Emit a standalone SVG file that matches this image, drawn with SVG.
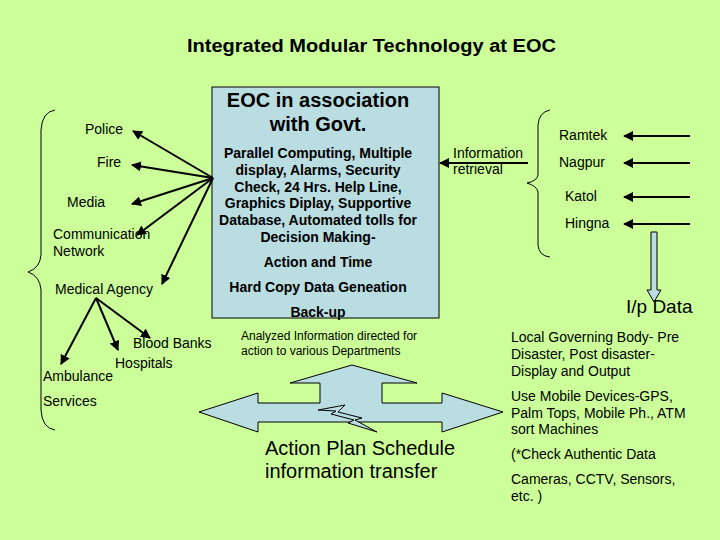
<svg xmlns="http://www.w3.org/2000/svg" width="720" height="540" viewBox="0 0 720 540">
<defs>
<marker id="ah" viewBox="0 0 10 10" refX="9" refY="5" markerWidth="5" markerHeight="5" orient="auto"><path d="M0,0 L10,5 L0,10 z" fill="#000"/></marker>
<style>
text{font-family:"Liberation Sans",Arial,sans-serif;fill:#000}
.s{font-size:14px}
.b{font-weight:bold}
.c{stroke:#000;stroke-width:2;fill:none;marker-end:url(#ah)}
.br{stroke:#000;stroke-width:1;fill:none}
.blue{fill:#b9dde0;stroke:#000;stroke-width:1}
</style>
</defs>
<rect width="720" height="540" fill="#ccff99"/>
<text x="187" y="52" class="b" font-size="18" textLength="369" lengthAdjust="spacingAndGlyphs">Integrated Modular Technology at EOC</text>
<g id="eoc">
<rect x="212" y="87" width="227" height="231" class="blue"/>
<text x="318" y="107" text-anchor="middle" class="b" font-size="20">EOC in association</text>
<text x="318" y="131" text-anchor="middle" class="b" font-size="20">with Govt.</text>
<g class="b" font-size="14" text-anchor="middle">
<text x="318" y="158">Parallel Computing, Multiple</text>
<text x="318" y="175">display, Alarms, Security</text>
<text x="318" y="192">Check, 24 Hrs. Help Line,</text>
<text x="318" y="208">Graphics Diplay, Supportive</text>
<text x="318" y="225">Database, Automated tolls for</text>
<text x="318" y="242">Decision Making-</text>
<text x="318" y="267">Action and Time</text>
<text x="318" y="292">Hard Copy Data Geneation</text>
<text x="318" y="317">Back-up</text>
</g>
</g>
<g id="left-brace"><path class="br" d="M55,110 Q42,112 41,130 L41,255 Q40,268 28,272 Q40,276 41,290 L41,410 Q42,428 55,430"/></g>
<g id="police"><text x="85" y="134" class="s">Police</text></g>
<g id="fire"><text x="97" y="167" class="s">Fire</text></g>
<g id="media"><text x="67" y="207" class="s">Media</text></g>
<g id="comm"><text x="53" y="239" class="s">Communication</text><text x="53" y="256" class="s">Network</text></g>
<g id="medical"><text x="55" y="294" class="s">Medical Agency</text></g>
<g id="blood"><text x="133" y="348" class="s">Blood Banks</text></g>
<g id="hospitals"><text x="115" y="368" class="s">Hospitals</text></g>
<g id="ambulance"><text x="43" y="381" class="s">Ambulance</text></g>
<g id="services"><text x="43" y="406" class="s">Services</text></g>
<g id="info"><text x="453" y="158" class="s">Information</text><text x="453" y="174" class="s">retrieval</text></g>
<g id="right-brace"><path class="br" d="M550,110 Q539,112 538,125 L538,175 Q537,181 527,183 Q537,186 538,192 L538,245 Q539,256 550,257"/></g>
<g id="ramtek"><text x="559" y="140" class="s">Ramtek</text></g>
<g id="nagpur"><text x="559" y="167" class="s">Nagpur</text></g>
<g id="katol"><text x="565" y="201" class="s">Katol</text></g>
<g id="hingna"><text x="565" y="228" class="s">Hingna</text></g>
<g id="ipdata">
<path d="M651,232 L657,232 L657,290 L661,290 L654,302 L647,290 L651,290 Z" fill="#b9dde0" stroke="#000" stroke-width="1"/>
<text x="626" y="313" font-size="19">I/p Data</text>
</g>
<g id="local" class="s">
<text x="511" y="342">Local Governing Body- Pre</text>
<text x="511" y="359">Disaster, Post disaster-</text>
<text x="511" y="376">Display and Output</text>
<text x="511" y="401">Use Mobile Devices-GPS,</text>
<text x="511" y="418">Palm Tops, Mobile Ph., ATM</text>
<text x="511" y="434">sort Machines</text>
<text x="511" y="459">(*Check Authentic Data</text>
<text x="511" y="484">Cameras, CCTV, Sensors,</text>
<text x="511" y="501">etc. )</text>
</g>
<g id="analyzed" font-size="12"><text x="241" y="340">Analyzed Information directed for</text><text x="241" y="355">action to various Departments</text></g>
<g id="bigarrow">
<path class="blue" d="M199,412 L258,393 L258,403 L320,403 L320,383 L290,383 L352,365 L417,383 L382,383 L382,403 L442,403 L442,393 L503,412 L442,432 L442,422 L258,422 L258,432 Z"/>
<path d="M318,410 L345,405 L338,412 L362,418 L355,420 L377,432 L348,423 L354,420 L331,414 L336,411 Z" fill="#b9dde0" stroke="#000" stroke-width="1"/>
</g>
<g id="action"><text x="265" y="455" font-size="20">Action Plan Schedule</text><text x="265" y="478" font-size="20">information transfer</text></g>
<g id="connectors">
<line class="c" x1="213" y1="178" x2="133" y2="131"/>
<line class="c" x1="213" y1="178" x2="132" y2="165"/>
<line class="c" x1="213" y1="178" x2="132" y2="204"/>
<line class="c" x1="213" y1="178" x2="137" y2="235"/>
<line class="c" x1="213" y1="178" x2="162" y2="284"/>
<line class="c" x1="96" y1="298" x2="61" y2="364"/>
<line class="c" x1="96" y1="298" x2="118" y2="350"/>
<line class="c" x1="96" y1="298" x2="150" y2="338"/>
<line class="c" x1="528" y1="163" x2="440" y2="163"/>
<line class="c" x1="690" y1="136" x2="624" y2="136" stroke-width="1.5"/>
<line class="c" x1="690" y1="163" x2="624" y2="163"/>
<line class="c" x1="690" y1="197" x2="624" y2="197"/>
<line class="c" x1="690" y1="224" x2="624" y2="224" stroke-width="1.5"/>
</g>
</svg>
